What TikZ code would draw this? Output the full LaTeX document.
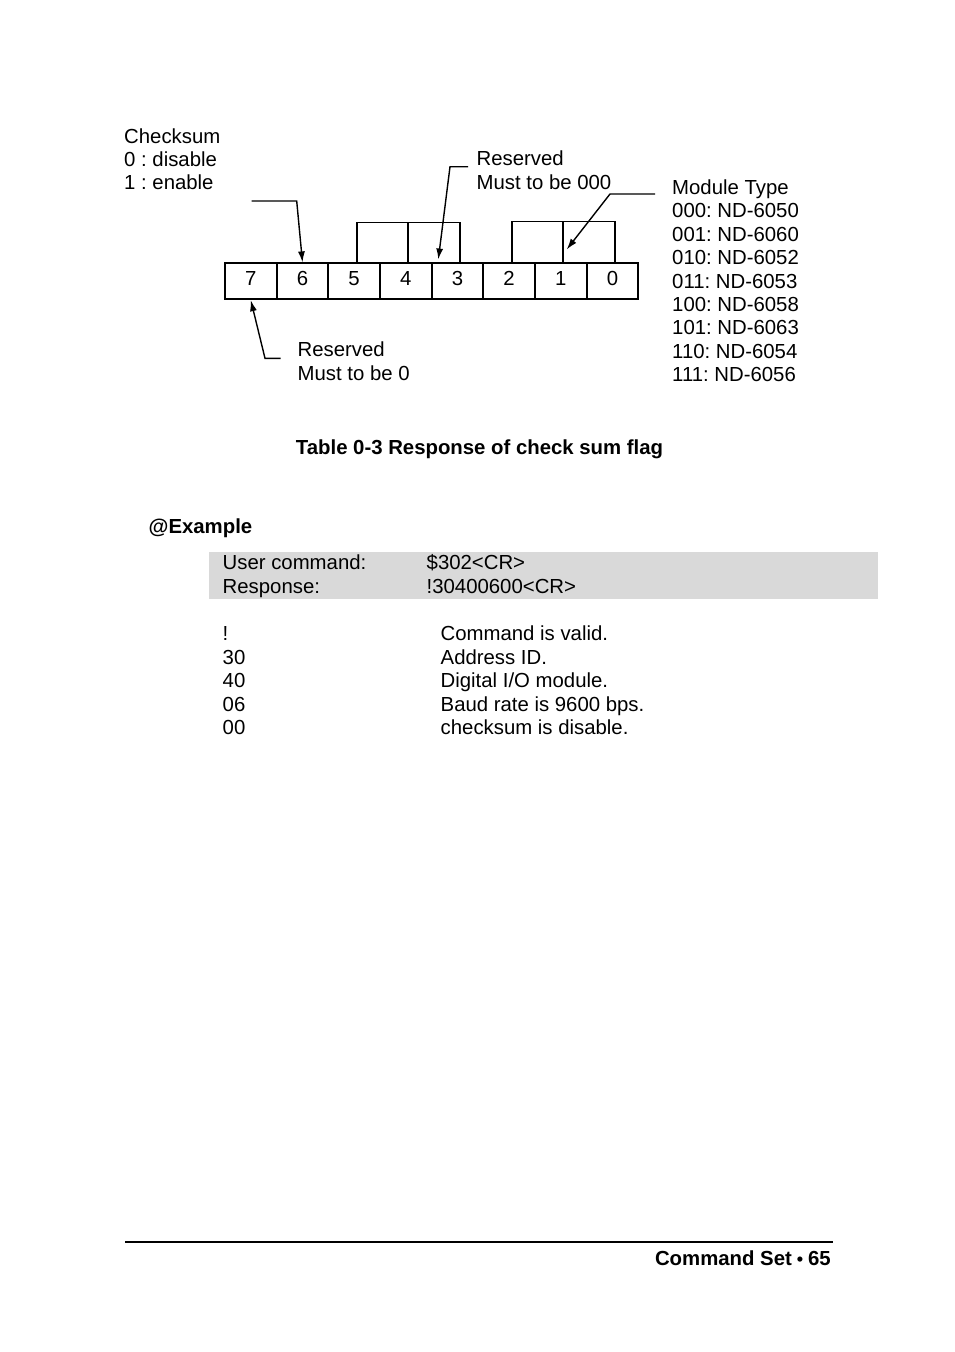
\documentclass[tikz,border=0pt]{standalone}
\usepackage{fontspec}
\setmainfont{Liberation Sans}
\usetikzlibrary{arrows.meta}
\definecolor{band}{HTML}{D9D9D9}
\frenchspacing
\begin{document}
\frenchspacing
\begin{tikzpicture}[x=1pt,y=-1pt,
  txt/.style={anchor=base west, inner sep=0pt, font=\fontsize{20.35}{23.4}\selectfont\frenchspacing},
  btxt/.style={inner sep=0pt, font=\fontsize{20.35}{23.4}\selectfont\bfseries\frenchspacing},
  cell/.style={draw, line width=1.8pt, minimum width=51.66pt, minimum height=36pt, inner sep=0pt, text depth=5pt, font=\fontsize{20.35}{23.4}\selectfont},
  brk/.style={line width=1.8pt},
  arr/.style={line width=1.4pt, -{Latex[length=11pt,width=7pt]}}]
\useasboundingbox (0,0) rectangle (954,1352);
% bit cells
\foreach \b [count=\k from 0] in {7,6,5,4,3,2,1,0} {
  \node[cell] (c\b) at ({225+51.66*\k+25.83},281.3) {\b};
}
% brackets
\coordinate (bl1) at (357,263.3); \coordinate (bt1) at (357,222.5);
\coordinate (br1) at (460,263.3); \coordinate (brt1) at (460,222.5);
\draw[brk] (bl1) -- (bt1) -- (brt1) -- (br1);
\draw[brk] (408.3,222.5) -- (408.3,263.3);
\coordinate (bl2) at (511.7,263.3); \coordinate (bt2) at (511.7,221.5);
\coordinate (br2) at (615,263.3); \coordinate (brt2) at (615,221.5);
\draw[brk] (bl2) -- (bt2) -- (brt2) -- (br2);
\draw[brk] (563.3,221.5) -- (563.3,263.3);
% arrows
\coordinate (a6s) at (251.7,201); \coordinate (a6m) at (296.7,201);
\draw[arr] (a6s) -- (a6m) -- (c6.north);
\coordinate (r3s) at (468,166.7); \coordinate (r3m) at (450,166.7); \coordinate (r3t) at (438.3,259.5);
\draw[arr] (r3s) -- (r3m) -- (r3t);
\coordinate (mts) at (655,194); \coordinate (mtm) at (610,194); \coordinate (mtt) at (566.7,249.5);
\draw[arr] (mts) -- (mtm) -- (mtt);
\coordinate (r7s) at (280.7,358.3); \coordinate (r7m) at (265,358.3);
\draw[arr] (r7s) -- (r7m) -- (c7.south);
% labels
\node[txt] (ck1) at (124,143) {Checksum};
\node[txt] (ck2) at (124,166.3) {0 : disable};
\node[txt] (ck3) at (124,189.6) {1 : enable};
\node[txt] (rs1) at (476.5,165.7) {Reserved};
\node[txt] (rs2) at (476.5,189) {Must to be 000};
\node[txt] (mt0) at (672,194.5) {Module Type};
\foreach \t [count=\i from 1] in {000: ND-6050,001: ND-6060,010: ND-6052,011: ND-6053,100: ND-6058,101: ND-6063,110: ND-6054,111: ND-6056} {
  \node[txt] (mt\i) at (672,{194.5+23.4*\i}) {\t};
}
\node[txt] (rz1) at (297.5,356.5) {Reserved};
\node[txt] (rz2) at (297.5,380) {Must to be 0};
% caption
\node[btxt, anchor=base] (cap) at (479.5,454) {Table 0-3 Response of check sum flag};
\node[btxt, anchor=base west] (ex) at (148.5,533) {@Example};
% gray band
\fill[band] (209,552) rectangle (878,599);
\node[txt] (uc) at (222.5,569.5) {User command:};
\node[txt] (ucv) at (426.5,569.5) {\$302<CR>};
\node[txt] (rp) at (222.5,593.5) {Response:};
\node[txt] (rpv) at (426.5,593.5) {!30400600<CR>};
% explanation list
\node[txt] (l1) at (222.5,640.5) {!};
\node[txt] (d1) at (440.5,640.5) {Command is valid.};
\node[txt] (l2) at (222.5,664) {30};
\node[txt] (d2) at (440.5,664) {Address ID.};
\node[txt] (l3) at (222.5,687.5) {40};
\node[txt] (d3) at (440.5,687.5) {Digital I/O module.};
\node[txt] (l4) at (222.5,711) {06};
\node[txt] (d4) at (440.5,711) {Baud rate is 9600 bps.};
\node[txt] (l5) at (222.5,734.5) {00};
\node[txt] (d5) at (440.5,734.5) {checksum is disable.};
% footer
\draw[line width=2pt] (125,1242) -- (833,1242);
\node[btxt, anchor=base east] (ft) at (831,1265) {Command Set\hspace{5pt}{\fontsize{18}{18}\selectfont\textbullet}\hspace{5pt}65};
\end{tikzpicture}
\end{document}
